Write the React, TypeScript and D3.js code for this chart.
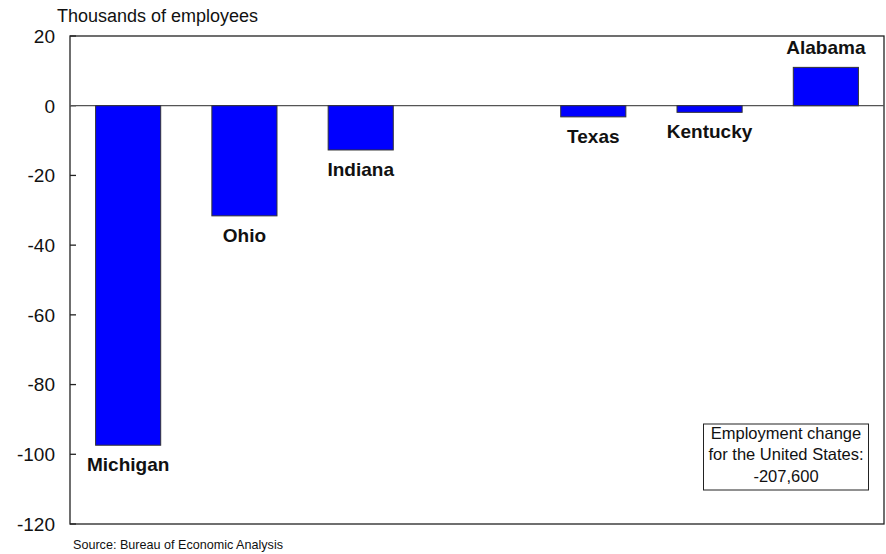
import React from 'react';
import * as d3 from 'd3';

// one empty slot between Indiana and Texas, as in the original
const states = ['Michigan', 'Ohio', 'Indiana', '', 'Texas', 'Kentucky', 'Alabama'];
const changes = [-97.4, -31.6, -12.7, null, -3.2, -1.9, 11.0];
const yTicks = [20, 0, -20, -40, -60, -80, -100, -120];

const width = 886;
const height = 554;
const margin = { top: 36, right: 2, bottom: 30, left: 70 };
const font = '"Liberation Sans", Arial, sans-serif';

const App = () => {
  const innerW = width - margin.left - margin.right;
  const innerH = height - margin.top - margin.bottom;

  const xScale = d3.scaleBand()
    .domain(states.map((s, i) => `${i}`))
    .range([0, innerW])
    .paddingInner(0.44)
    .paddingOuter(0.22);

  const yScale = d3.scaleLinear()
    .domain([-120, 20])
    .range([innerH, 0]);

  const zeroLine = d3.line()([[0, yScale(0)], [innerW, yScale(0)]]);

  return (
    <svg width={width} height={height} style={{ position: 'absolute', left: 0, top: 0, fontFamily: font }}>
      <text x={57} y={22} fontSize={18} fill='#111'>Thousands of employees</text>
      <g transform={`translate(${margin.left},${margin.top})`}>
        <rect x={0} y={0} width={innerW} height={innerH} fill='none' stroke='#222' strokeWidth={1.3} />
        {yTicks.map(t => (
          <g key={t} transform={`translate(0,${yScale(t)})`}>
            <line x1={0} x2={6} stroke='#222' strokeWidth={1.3} />
            <text x={-15} dy='0.36em' textAnchor='end' fontSize={19} fill='#111'>{t}</text>
          </g>
        ))}
        <path d={zeroLine} stroke='#555' strokeWidth={1.2} fill='none' />
        {states.map((s, i) => {
          const v = changes[i];
          if (v === null) return null;
          const x = xScale(`${i}`);
          const y0 = yScale(0);
          const y1 = yScale(v);
          const cx = x + xScale.bandwidth() / 2;
          return (
            <g key={s}>
              <rect x={x} y={Math.min(y0, y1)} width={xScale.bandwidth()} height={Math.abs(y1 - y0)}
                fill='#0000ff' stroke='#333' strokeWidth={1} />
              <text x={cx} y={v < 0 ? y1 + 26 : y1 - 13} textAnchor='middle' fontSize={19}
                fontWeight='bold' fill='#111'>{s}</text>
            </g>
          );
        })}
      </g>
      <rect x={703.5} y={424} width={165} height={66} fill='#fff' stroke='#222' strokeWidth={1} />
      <g fontSize={16.5} textAnchor='middle' fill='#111'>
        <text x={786} y={438.5}>Employment change</text>
        <text x={786} y={459.5}>for the United States:</text>
        <text x={786} y={481.5}>-207,600</text>
      </g>
      <text x={73} y={549} fontSize={12.6} fill='#111'>Source: Bureau of Economic Analysis</text>
    </svg>
  );
};

export default App;
